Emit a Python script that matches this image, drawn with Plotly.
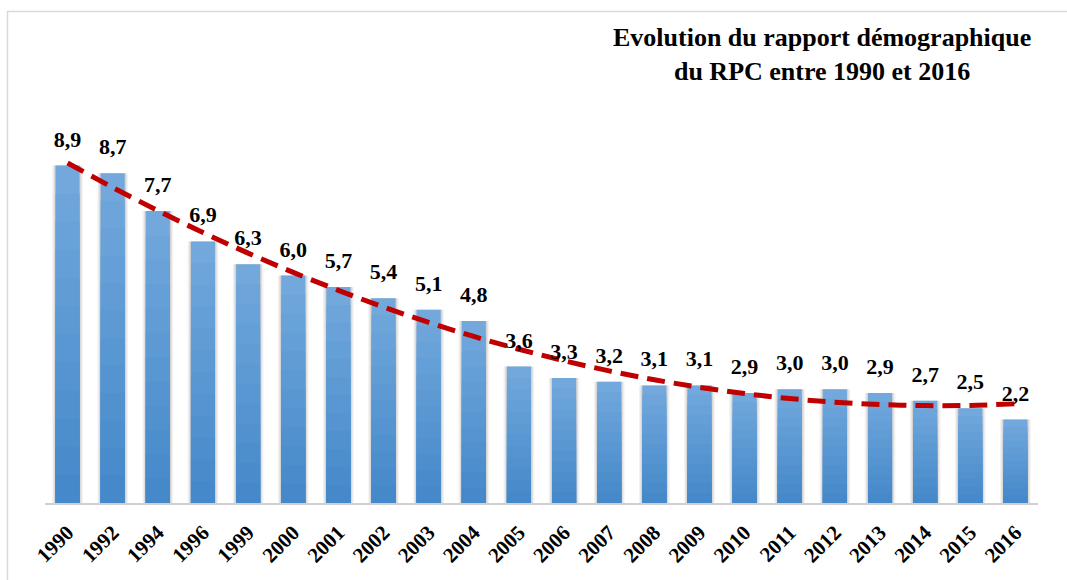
import numpy as np
import plotly.graph_objects as go

years = ["1990", "1992", "1994", "1996", "1999", "2000", "2001", "2002", "2003", "2004",
         "2005", "2006", "2007", "2008", "2009", "2010", "2011", "2012", "2013", "2014",
         "2015", "2016"]
ratio = [8.9, 8.7, 7.7, 6.9, 6.3, 6.0, 5.7, 5.4, 5.1, 4.8,
         3.6, 3.3, 3.2, 3.1, 3.1, 2.9, 3.0, 3.0, 2.9, 2.7,
         2.5, 2.2]
title_text = "Evolution du rapport démographique<br>du RPC entre 1990 et 2016"

vals = np.array(ratio)
idx = np.arange(len(vals))
coef = np.polyfit(idx, vals, 2)   # polynomial trendline (order 2), as in the source
trend = np.polyval(coef, idx)

SERIF = "Liberation Serif"
BW = 0.532

fig = go.Figure()

# soft shadow around bars
for w, a in [(BW + 0.15, 0.05), (BW + 0.09, 0.07), (BW + 0.04, 0.08)]:
    fig.add_trace(go.Bar(
        x=years, y=vals, width=w,
        marker=dict(color="rgba(0,0,0,%.2f)" % a, line=dict(width=0)),
        hoverinfo="skip", showlegend=False, textposition="none",
    ))

# gradient emulation: overlaid bars, lighter at top, darker at bottom
top_c = np.array([0x72, 0xa8, 0xdc])
bot_c = np.array([0x45, 0x89, 0xca])
N = 12
for k in range(N):
    f = 1 - k / N
    c = top_c + (bot_c - top_c) * (k / (N - 1))
    fig.add_trace(go.Bar(
        x=years, y=vals * f, width=BW,
        marker=dict(color="rgb(%d,%d,%d)" % tuple(c.astype(int)), line=dict(width=0)),
        hoverinfo="skip" if k else None,
        showlegend=False, textposition="none",
    ))

fig.add_trace(go.Scatter(
    x=years, y=trend, mode="lines",
    line=dict(color="#c00000", width=5, dash="18px,9px", shape="spline"),
    showlegend=False, hoverinfo="skip",
))

# value labels
fig.add_trace(go.Scatter(
    x=years, y=vals, mode="markers+text",
    marker=dict(size=20, opacity=0),
    text=[f"{v:.1f}".replace(".", ",") for v in vals],
    textposition="top center",
    textfont=dict(family=SERIF, size=22, color="black", weight="bold"),
    showlegend=False, hoverinfo="skip", cliponaxis=False,
))

fig.update_layout(
    width=1067, height=580,
    barmode="overlay",
    plot_bgcolor="white", paper_bgcolor="white",
    margin=dict(l=45, r=29, t=100, b=77, autoexpand=False),
    xaxis=dict(
        range=[-0.5, len(years) - 0.5],
        tickangle=-45, showgrid=False, zeroline=False,
        showline=True, linecolor="#d0d0d0", linewidth=2,
        tickfont=dict(family=SERIF, size=21, color="black", weight="bold"),
        ticks="", ticklabelstandoff=7,
    ),
    yaxis=dict(range=[0, 10.63], visible=False, showgrid=False, zeroline=False),
    annotations=[dict(
        text="<b>" + title_text + "</b>",
        xref="paper", yref="paper",
        x=(822 - 45) / 993, y=(503 - 54) / 403,
        xanchor="center", yanchor="middle",
        showarrow=False, align="center",
        font=dict(family=SERIF, size=26, color="black"),
    )],
    shapes=[dict(
        type="rect", xref="paper", yref="paper",
        x0=(7.5 - 45) / 993, x1=(1070 - 45) / 993,
        y0=(503 - 590) / 403, y1=(503 - 11.5) / 403,
        line=dict(color="#d9d9d9", width=1.5), layer="below",
    )],
)

fig.write_html("out.html", config={"displayModeBar": False},
               post_script="document.body.style.margin='0';")
